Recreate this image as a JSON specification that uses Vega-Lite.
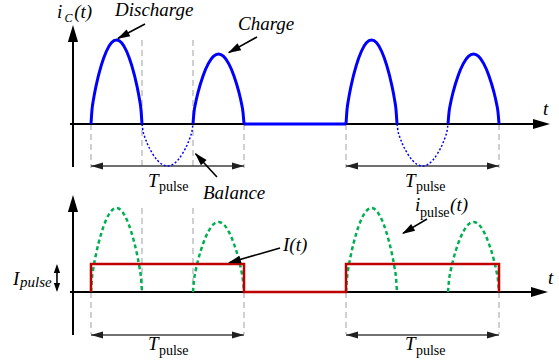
{
  "$schema": "https://vega.github.io/schema/vega-lite/v6.json",
  "padding": 0,
  "spacing": 0,
  "bounds": "flush",
  "background": "white",
  "config": {"view": {"stroke": null}},
  "datasets": {
    "arcs": [
      {"seg":"A","t":0,"i":0},{"seg":"A","t":0.02,"i":0.171},{"seg":"A","t":0.05,"i":0.296},{"seg":"A","t":0.1,"i":0.455},{"seg":"A","t":0.2,"i":0.694},{"seg":"A","t":0.3,"i":0.863},{"seg":"A","t":0.4,"i":0.966},{"seg":"A","t":0.5,"i":1},{"seg":"A","t":0.6,"i":0.966},{"seg":"A","t":0.7,"i":0.863},{"seg":"A","t":0.8,"i":0.694},{"seg":"A","t":0.9,"i":0.455},{"seg":"A","t":0.95,"i":0.296},{"seg":"A","t":0.98,"i":0.171},{"seg":"A","t":1,"i":0},
      {"seg":"B","t":2,"i":0},{"seg":"B","t":2.02,"i":0.142},{"seg":"B","t":2.05,"i":0.247},{"seg":"B","t":2.1,"i":0.379},{"seg":"B","t":2.2,"i":0.578},{"seg":"B","t":2.3,"i":0.719},{"seg":"B","t":2.4,"i":0.805},{"seg":"B","t":2.5,"i":0.833},{"seg":"B","t":2.6,"i":0.805},{"seg":"B","t":2.7,"i":0.719},{"seg":"B","t":2.8,"i":0.578},{"seg":"B","t":2.9,"i":0.379},{"seg":"B","t":2.95,"i":0.247},{"seg":"B","t":2.98,"i":0.142},{"seg":"B","t":3,"i":0},
      {"seg":"C","t":5,"i":0},{"seg":"C","t":5.02,"i":0.171},{"seg":"C","t":5.05,"i":0.296},{"seg":"C","t":5.1,"i":0.455},{"seg":"C","t":5.2,"i":0.694},{"seg":"C","t":5.3,"i":0.863},{"seg":"C","t":5.4,"i":0.966},{"seg":"C","t":5.5,"i":1},{"seg":"C","t":5.6,"i":0.966},{"seg":"C","t":5.7,"i":0.863},{"seg":"C","t":5.8,"i":0.694},{"seg":"C","t":5.9,"i":0.455},{"seg":"C","t":5.95,"i":0.296},{"seg":"C","t":5.98,"i":0.171},{"seg":"C","t":6,"i":0},
      {"seg":"D","t":7,"i":0},{"seg":"D","t":7.02,"i":0.142},{"seg":"D","t":7.05,"i":0.247},{"seg":"D","t":7.1,"i":0.379},{"seg":"D","t":7.2,"i":0.578},{"seg":"D","t":7.3,"i":0.719},{"seg":"D","t":7.4,"i":0.805},{"seg":"D","t":7.5,"i":0.833},{"seg":"D","t":7.6,"i":0.805},{"seg":"D","t":7.7,"i":0.719},{"seg":"D","t":7.8,"i":0.578},{"seg":"D","t":7.9,"i":0.379},{"seg":"D","t":7.95,"i":0.247},{"seg":"D","t":7.98,"i":0.142},{"seg":"D","t":8,"i":0},
      {"seg":"N1","t":1,"i":0},{"seg":"N1","t":1.02,"i":-0.086},{"seg":"N1","t":1.05,"i":-0.148},{"seg":"N1","t":1.1,"i":-0.228},{"seg":"N1","t":1.2,"i":-0.347},{"seg":"N1","t":1.3,"i":-0.432},{"seg":"N1","t":1.4,"i":-0.483},{"seg":"N1","t":1.5,"i":-0.5},{"seg":"N1","t":1.6,"i":-0.483},{"seg":"N1","t":1.7,"i":-0.432},{"seg":"N1","t":1.8,"i":-0.347},{"seg":"N1","t":1.9,"i":-0.228},{"seg":"N1","t":1.95,"i":-0.148},{"seg":"N1","t":1.98,"i":-0.086},{"seg":"N1","t":2,"i":0},
      {"seg":"N2","t":6,"i":0},{"seg":"N2","t":6.02,"i":-0.086},{"seg":"N2","t":6.05,"i":-0.148},{"seg":"N2","t":6.1,"i":-0.228},{"seg":"N2","t":6.2,"i":-0.347},{"seg":"N2","t":6.3,"i":-0.432},{"seg":"N2","t":6.4,"i":-0.483},{"seg":"N2","t":6.5,"i":-0.5},{"seg":"N2","t":6.6,"i":-0.483},{"seg":"N2","t":6.7,"i":-0.432},{"seg":"N2","t":6.8,"i":-0.347},{"seg":"N2","t":6.9,"i":-0.228},{"seg":"N2","t":6.95,"i":-0.148},{"seg":"N2","t":6.98,"i":-0.086},{"seg":"N2","t":7,"i":0}
    ],
    "flat": [{"t":3,"i":0,"t2":5,"i2":0}],
    "pulse": [
      {"k":0,"t":0,"i":0},{"k":1,"t":0,"i":0.333},{"k":2,"t":3,"i":0.333},{"k":3,"t":3,"i":0},
      {"k":4,"t":5,"i":0},{"k":5,"t":5,"i":0.333},{"k":6,"t":8,"i":0.333},{"k":7,"t":8,"i":0}
    ],
    "topAxes": [
      {"t":-0.353,"i":-0.512,"t2":-0.353,"i2":1.05},
      {"t":-0.412,"i":0,"t2":8.8,"i2":0}
    ],
    "topAxisHeads": [
      {"t":-0.353,"i":1.179,"a":270},
      {"t":9.0,"i":0,"a":0}
    ],
    "topDash": [
      {"t":0,"i":0,"t2":0,"i2":-0.524},
      {"t":1,"i":1.0,"t2":1,"i2":-0.524},
      {"t":2,"i":1.0,"t2":2,"i2":-0.524},
      {"t":3,"i":0,"t2":3,"i2":-0.524},
      {"t":5,"i":0,"t2":5,"i2":-0.524},
      {"t":8,"i":0,"t2":8,"i2":-0.524}
    ],
    "topSpan": [
      {"t":0,"i":-0.5,"t2":3,"i2":-0.5},
      {"t":5,"i":-0.5,"t2":8,"i2":-0.5}
    ],
    "topSpanHeads": [
      {"t":0,"i":-0.5,"a":180},{"t":3,"i":-0.5,"a":0},
      {"t":5,"i":-0.5,"a":180},{"t":8,"i":-0.5,"a":0}
    ],
    "topAnn": [
      {"t":1.059,"i":1.19,"t2":0.53,"i2":1.02},
      {"t":3.255,"i":1.036,"t2":2.7,"i2":0.85},
      {"t":2.47,"i":-0.631,"t2":2.05,"i2":-0.355}
    ],
    "topAnnHeads": [
      {"t":0.51,"i":1.012,"a":151.8},
      {"t":2.686,"i":0.845,"a":151.1},
      {"t":2.039,"i":-0.345,"a":227.5}
    ],
    "topBig": [
      {"label":"i","t":-0.667,"i":1.262},
      {"label":"(t)","t":-0.33,"i":1.262},
      {"label":"Discharge","t":0.471,"i":1.286},
      {"label":"Charge","t":2.882,"i":1.119},
      {"label":"Balance","t":2.196,"i":-0.893},
      {"label":"T","t":1.118,"i":-0.75},
      {"label":"T","t":6.157,"i":-0.75},
      {"label":"t","t":8.863,"i":0.107}
    ],
    "topSub": [{"label":"C","t":-0.52,"i":1.214}],
    "topPulse": [
      {"label":"pulse","t":1.333,"i":-0.798},
      {"label":"pulse","t":6.37,"i":-0.798}
    ],
    "botAxes": [
      {"t":-0.353,"i":-0.512,"t2":-0.353,"i2":1.03},
      {"t":-0.412,"i":0,"t2":8.75,"i2":0}
    ],
    "botAxisHeads": [
      {"t":-0.353,"i":1.155,"a":270},
      {"t":8.96,"i":0,"a":0}
    ],
    "botDash": [
      {"t":0,"i":0,"t2":0,"i2":-0.5},
      {"t":1,"i":1.0,"t2":1,"i2":0},
      {"t":2,"i":1.0,"t2":2,"i2":0},
      {"t":3,"i":0,"t2":3,"i2":-0.5},
      {"t":5,"i":0,"t2":5,"i2":-0.5},
      {"t":8,"i":0,"t2":8,"i2":-0.5}
    ],
    "botSpan": [
      {"t":0,"i":-0.512,"t2":3,"i2":-0.512},
      {"t":5,"i":-0.512,"t2":8,"i2":-0.512}
    ],
    "botSpanHeads": [
      {"t":0,"i":-0.512,"a":180},{"t":3,"i":-0.512,"a":0},
      {"t":5,"i":-0.512,"a":180},{"t":8,"i":-0.512,"a":0}
    ],
    "botAnn": [
      {"t":3.706,"i":0.524,"t2":2.72,"i2":0.35},
      {"t":6.588,"i":0.869,"t2":6.12,"i2":0.7},
      {"t":-0.667,"i":0.03,"t2":-0.667,"i2":0.3}
    ],
    "botAnnHeads": [
      {"t":2.686,"i":0.345,"a":163.9},
      {"t":6.098,"i":0.69,"a":149}
    ],
    "botSmallHeads": [
      {"t":-0.667,"i":0.333,"a":270},
      {"t":-0.667,"i":0,"a":90}
    ],
    "botBig": [
      {"label":"I","t":-1.529,"i":0.083},
      {"label":"I(t)","t":3.765,"i":0.488},
      {"label":"i","t":6.353,"i":0.964},
      {"label":"(t)","t":7.04,"i":0.964},
      {"label":"T","t":1.118,"i":-0.69},
      {"label":"T","t":6.157,"i":-0.69},
      {"label":"t","t":8.96,"i":0.095}
    ],
    "botSubItalic": [{"label":"pulse","t":-1.392,"i":0.06}],
    "botPulse": [
      {"label":"pulse","t":6.451,"i":0.893},
      {"label":"pulse","t":1.333,"i":-0.75},
      {"label":"pulse","t":6.37,"i":-0.75}
    ]
  },
  "vconcat": [
    {
      "width": 559,
      "height": 200,
      "encoding": {
        "x": {"field":"t","type":"quantitative","scale":{"domain":[-1.784,9.176],"nice":false,"zero":false},"axis":null},
        "y": {"field":"i","type":"quantitative","scale":{"domain":[-0.905,1.476],"nice":false,"zero":false},"axis":null}
      },
      "layer": [
        {"data":{"name":"topDash"},"mark":{"type":"rule","color":"#a0a0a0","strokeWidth":1,"strokeDash":[6,4]},"encoding":{"x2":{"field":"t2"},"y2":{"field":"i2"}}},
        {"data":{"name":"topAxes"},"mark":{"type":"rule","color":"black","strokeWidth":2},"encoding":{"x2":{"field":"t2"},"y2":{"field":"i2"}}},
        {"data":{"name":"topAxisHeads"},"mark":{"type":"point","shape":"M0,0L-2,-0.6L-2,0.6Z","filled":true,"color":"black","opacity":1,"size":289},"encoding":{"angle":{"field":"a","type":"quantitative","scale":null}}},
        {"data":{"name":"topSpan"},"mark":{"type":"rule","color":"#404040","strokeWidth":1.5},"encoding":{"x2":{"field":"t2"},"y2":{"field":"i2"}}},
        {"data":{"name":"topSpanHeads"},"mark":{"type":"point","shape":"M0,0L-2,-0.6L-2,0.6Z","filled":true,"color":"#202020","opacity":1,"size":144},"encoding":{"angle":{"field":"a","type":"quantitative","scale":null}}},
        {"data":{"name":"arcs"},"transform":[{"filter":{"field":"seg","oneOf":["N1","N2"]}}],"mark":{"type":"line","color":"#0000ff","strokeWidth":1.5,"strokeDash":[2,2],"interpolate":"monotone"},"encoding":{"detail":{"field":"seg"}}},
        {"data":{"name":"flat"},"mark":{"type":"rule","color":"#0000ff","strokeWidth":3},"encoding":{"x2":{"field":"t2"},"y2":{"field":"i2"}}},
        {"data":{"name":"arcs"},"transform":[{"filter":{"field":"seg","oneOf":["A","B","C","D"]}}],"mark":{"type":"line","color":"#0000ff","strokeWidth":3,"interpolate":"monotone"},"encoding":{"detail":{"field":"seg"}}},
        {"data":{"name":"topAnn"},"mark":{"type":"rule","color":"black","strokeWidth":1.6},"encoding":{"x2":{"field":"t2"},"y2":{"field":"i2"}}},
        {"data":{"name":"topAnnHeads"},"mark":{"type":"point","shape":"M0,0L-2,-0.6L-2,0.6Z","filled":true,"color":"black","opacity":1,"size":169},"encoding":{"angle":{"field":"a","type":"quantitative","scale":null}}},
        {"data":{"name":"topBig"},"mark":{"type":"text","font":"Times New Roman","fontStyle":"italic","fontSize":19,"align":"left","baseline":"alphabetic","color":"black"},"encoding":{"text":{"field":"label"}}},
        {"data":{"name":"topSub"},"mark":{"type":"text","font":"Times New Roman","fontStyle":"italic","fontSize":12,"align":"left","baseline":"alphabetic","color":"black"},"encoding":{"text":{"field":"label"}}},
        {"data":{"name":"topPulse"},"mark":{"type":"text","font":"Times New Roman","fontSize":14,"align":"left","baseline":"alphabetic","color":"black"},"encoding":{"text":{"field":"label"}}}
      ]
    },
    {
      "width": 559,
      "height": 164,
      "encoding": {
        "x": {"field":"t","type":"quantitative","scale":{"domain":[-1.784,9.176],"nice":false,"zero":false},"axis":null},
        "y": {"field":"i","type":"quantitative","scale":{"domain":[-0.857,1.095],"nice":false,"zero":false},"axis":null}
      },
      "layer": [
        {"data":{"name":"botDash"},"mark":{"type":"rule","color":"#a0a0a0","strokeWidth":1,"strokeDash":[6,4]},"encoding":{"x2":{"field":"t2"},"y2":{"field":"i2"}}},
        {"data":{"name":"botAxes"},"mark":{"type":"rule","color":"black","strokeWidth":2},"encoding":{"x2":{"field":"t2"},"y2":{"field":"i2"}}},
        {"data":{"name":"botAxisHeads"},"mark":{"type":"point","shape":"M0,0L-2,-0.6L-2,0.6Z","filled":true,"color":"black","opacity":1,"size":289},"encoding":{"angle":{"field":"a","type":"quantitative","scale":null}}},
        {"data":{"name":"botSpan"},"mark":{"type":"rule","color":"#404040","strokeWidth":1.5},"encoding":{"x2":{"field":"t2"},"y2":{"field":"i2"}}},
        {"data":{"name":"botSpanHeads"},"mark":{"type":"point","shape":"M0,0L-2,-0.6L-2,0.6Z","filled":true,"color":"#202020","opacity":1,"size":144},"encoding":{"angle":{"field":"a","type":"quantitative","scale":null}}},
        {"data":{"name":"arcs"},"transform":[{"filter":{"field":"seg","oneOf":["A","B","C","D"]}}],"mark":{"type":"line","color":"#00b050","strokeWidth":2.5,"strokeDash":[4,3],"interpolate":"monotone"},"encoding":{"detail":{"field":"seg"}}},
        {"data":{"name":"pulse"},"mark":{"type":"line","color":"#c00000","strokeWidth":2.5},"encoding":{"order":{"field":"k","type":"quantitative"}}},
        {"data":{"name":"botAnn"},"mark":{"type":"rule","color":"black","strokeWidth":1.6},"encoding":{"x2":{"field":"t2"},"y2":{"field":"i2"}}},
        {"data":{"name":"botAnnHeads"},"mark":{"type":"point","shape":"M0,0L-2,-0.6L-2,0.6Z","filled":true,"color":"black","opacity":1,"size":169},"encoding":{"angle":{"field":"a","type":"quantitative","scale":null}}},
        {"data":{"name":"botSmallHeads"},"mark":{"type":"point","shape":"M0,0L-2,-0.7L-2,0.7Z","filled":true,"color":"black","opacity":1,"size":81},"encoding":{"angle":{"field":"a","type":"quantitative","scale":null}}},
        {"data":{"name":"botBig"},"mark":{"type":"text","font":"Times New Roman","fontStyle":"italic","fontSize":19,"align":"left","baseline":"alphabetic","color":"black"},"encoding":{"text":{"field":"label"}}},
        {"data":{"name":"botSubItalic"},"mark":{"type":"text","font":"Times New Roman","fontStyle":"italic","fontSize":15,"align":"left","baseline":"alphabetic","color":"black"},"encoding":{"text":{"field":"label"}}},
        {"data":{"name":"botPulse"},"mark":{"type":"text","font":"Times New Roman","fontSize":14,"align":"left","baseline":"alphabetic","color":"black"},"encoding":{"text":{"field":"label"}}}
      ]
    }
  ]
}
